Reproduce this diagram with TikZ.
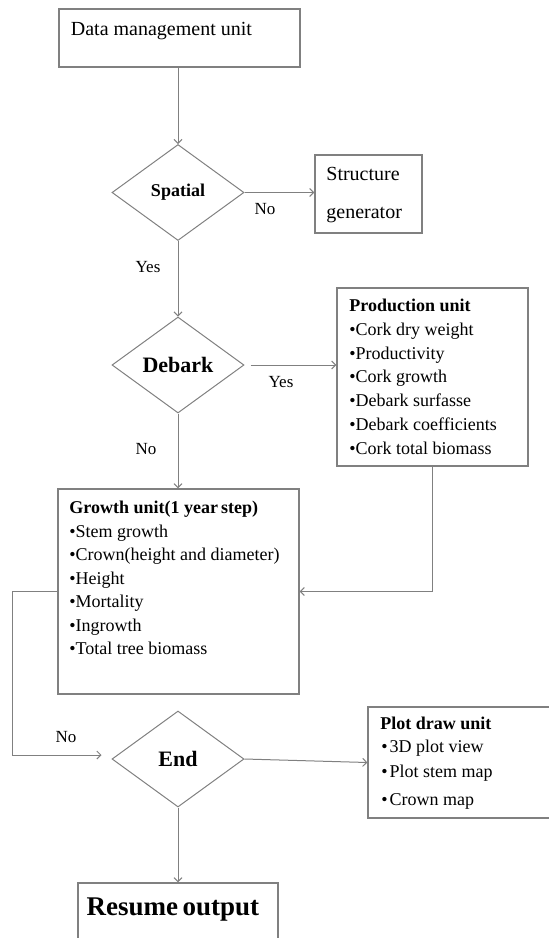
\documentclass[tikz,border=0pt]{standalone}
\usepackage{fontspec}
\setmainfont{Liberation Serif}
\usepackage{tikz}
\usetikzlibrary{shapes.geometric}
\usetikzlibrary{arrows.meta}
\usetikzlibrary{fit}
\usetikzlibrary{positioning}
\definecolor{linegray}{RGB}{128,128,128}
\tikzset{unitbox/.style={draw=linegray, line width=0.6pt, inner sep=0pt}}
\tikzset{decision/.style={draw=linegray, line width=0.5pt, diamond, inner sep=0pt, minimum width=66pt, minimum height=48pt}}
\tikzset{flow/.style={draw=linegray, line width=0.5pt, -{Straight Barb[length=2pt,width=4pt]}}}
\tikzset{itemtext/.style={anchor=base west, inner sep=0pt, font=\fontsize{9}{11}\selectfont}}
\tikzset{answer/.style={inner sep=0pt, font=\fontsize{8.5}{10}\selectfont}}

\begin{document}
\begin{tikzpicture}[x=0.5pt,y=-0.5pt]
{
\useasboundingbox (0,0) rectangle (548,938);
% boxes
\node[unitbox, fit={(59,9) (300,67)}] (data) {};
\node[itemtext, font=\fontsize{10}{12}\selectfont] (datatxt) at (70.5,35) {Data management unit};
\node[unitbox, fit={(315,155) (422,233)}] (struct) {};
\node[itemtext, font=\fontsize{10}{12}\selectfont] (structtxt) at (326,180) {Structure};
\node[itemtext, font=\fontsize{10}{12}\selectfont] (gentxt) at (326,218) {generator};
\node[unitbox, fit={(337,288) (528,466)}] (prod) {};
\node[itemtext, font=\fontsize{9}{11}\selectfont\bfseries] (prodtitle) at (349,311.5) {Production unit};
\foreach \txt [count=\i] in {Cork dry weight, Productivity, Cork growth, Debark surfasse, Debark coefficients, Cork total biomass}
  \node[itemtext] (prod\i) at (349,{311.5+23.83*\i}) {•\txt};
\node[unitbox, fit={(58,489) (299,694)}] (growth) {};
\node[itemtext, font=\fontsize{9}{11}\selectfont\bfseries] (growthtitle) at (69,513.5) {Growth unit(1 year\,step)};
\foreach \txt [count=\i] in {Stem growth, Crown(height and diameter), Height, Mortality, Ingrowth, Total tree biomass}
  \node[itemtext] (growth\i) at (69,{513.5+23.5*\i}) {•\txt};
\node[unitbox, fit={(368,707) (556,818)}] (plot) {};
\node[itemtext, font=\fontsize{9}{11}\selectfont\bfseries] (plottitle) at (380,729.5) {Plot draw unit};
\foreach \y/\txt [count=\i] in {752.5/3D plot view, 777.5/Plot stem map, 805.5/Crown map}
  \node[itemtext] (plot\i) at (381,\y) {•\kern1pt\txt};
\node[unitbox, fit={(78,883) (278,960)}] (resume) {};
\node[anchor=base, inner sep=0pt, font=\fontsize{13.5}{16}\selectfont\bfseries] (resumetxt) at (173,915) {Resume\,output};
% decisions
\node[decision, font=\fontsize{9}{11}\selectfont\bfseries] (spatial) at (178,192.5) {Spatial};
\node[decision, font=\fontsize{11}{13}\selectfont\bfseries] (debark) at (178,365) {Debark};
\node[decision, font=\fontsize{11}{13}\selectfont\bfseries] (enddec) at (178,759) {End};
% connectors
\draw[flow] (data.south -| spatial.north) -- (spatial.north);
\draw[flow] (spatial.east) -- (spatial.east -| struct.west);
\draw[flow] (spatial.south) -- (debark.north);
\draw[flow, shorten <=3pt] (debark.east) -- (debark.east -| prod.west);
\draw[flow] (debark.south) -- (debark.south |- growth.north);
\draw[flow] (prod.south) |- (growth.east);
\coordinate (loopc) at (12,755);
\draw[flow, shorten >=5pt] (growth.west) -| (loopc) -- (loopc -| enddec.west);
\draw[flow] (enddec.east) -- (plot.west);
\draw[flow] (enddec.south) -- (enddec.south |- resume.north);
% answers
\node[answer] (no1) at (265,209) {No};
\node[answer] (yes1) at (148,267) {Yes};
\node[answer] (yes2) at (281,382) {Yes};
\node[answer] (no2) at (146,449) {No};
\node[answer] (no3) at (66,737) {No};
}
\end{tikzpicture}
\end{document}
